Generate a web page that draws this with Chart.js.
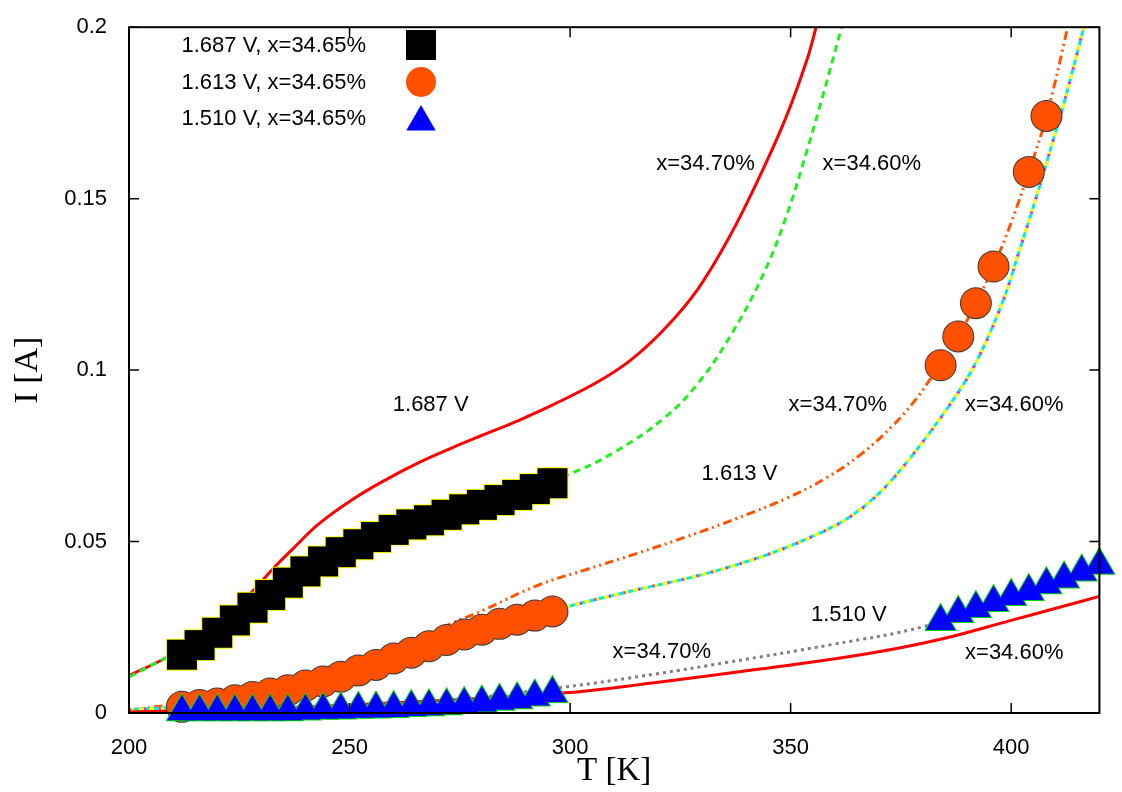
<!DOCTYPE html>
<html>
<head>
<meta charset="utf-8">
<script src="https://cdn.jsdelivr.net/npm/chart.js@4.4.1/dist/chart.umd.min.js"></script>
<style>
  html, body { margin: 0; padding: 0; background: #fff; }
  canvas { display: block; }
</style>
</head>
<body>
<canvas id="chart" width="1122" height="792"></canvas>
<script>
// measured points (T in K, I in A)
const markerT = [212, 216, 220, 224, 228, 232, 236, 240, 244, 248, 252, 256, 260, 264, 268, 272, 276, 280, 284, 288, 292, 296];
const sq1687 = [0.0170, 0.0198, 0.0234, 0.0270, 0.0307, 0.0344, 0.0380, 0.0413, 0.0442, 0.0469, 0.0492, 0.0513, 0.0534, 0.0550, 0.0562, 0.0578, 0.0594, 0.0607, 0.0621, 0.0636, 0.0653, 0.0670];
const circ1613 = [0.0018, 0.0023, 0.0028, 0.0037, 0.0047, 0.0057, 0.0066, 0.0080, 0.0092, 0.0106, 0.0124, 0.0140, 0.0159, 0.0176, 0.0195, 0.0213, 0.0229, 0.0243, 0.0260, 0.0272, 0.0284, 0.0296];
const tri1510 = [0.0004, 0.0004, 0.0004, 0.0004, 0.0004, 0.0004, 0.0004, 0.0006, 0.0008, 0.0009, 0.0011, 0.0012, 0.0013, 0.0016, 0.0018, 0.0021, 0.0025, 0.0029, 0.0034, 0.0039, 0.0047, 0.0057];
const hotT1613 = [384, 388, 392, 396, 404, 408];
const hotCirc1613 = [0.1014, 0.1098, 0.1195, 0.1302, 0.1578, 0.1741];
const hotT1510 = [384, 388, 392, 396, 400, 404, 408, 412, 416, 420];
const hotTri1510 = [0.0267, 0.0290, 0.0305, 0.0322, 0.0340, 0.0354, 0.0374, 0.0391, 0.0411, 0.0431];

// model curves
const fitA_T = [200, 208.5, 215, 222, 228.4, 232.6, 237.1, 243.1, 250.6, 258.2, 265.7, 273.2, 280.7, 288.3, 295.8, 306.3, 313.8, 321.4, 328.9, 336.4, 343.9, 349.2, 353.7, 355.8, 357];
const fitA_I = [0.0109, 0.0162, 0.0215, 0.0280, 0.0360, 0.0420, 0.0478, 0.0552, 0.0622, 0.0680, 0.0730, 0.0773, 0.0813, 0.0853, 0.0897, 0.0966, 0.1030, 0.1120, 0.1235, 0.1395, 0.1590, 0.1745, 0.1905, 0.2001, 0.2060];
const fitB_T = [200, 208.5, 212, 220, 230, 240, 250, 260, 270, 280, 290, 299.2, 310.1, 321.4, 328.9, 336.4, 343.9, 349.2, 353.7, 357.5, 361.6, 363];
const fitB_I = [0.0105, 0.0160, 0.0172, 0.0232, 0.0320, 0.0395, 0.0460, 0.0520, 0.0570, 0.0615, 0.0655, 0.0693, 0.0761, 0.0861, 0.0960, 0.1101, 0.1282, 0.1455, 0.1640, 0.1809, 0.2001, 0.2060];
const fitC_T = [200, 212, 230, 250, 265, 272.5, 280.7, 292.8, 304.1, 315.3, 326.6, 337.9, 349.2, 358, 366, 373.3, 378.6, 382, 384, 388, 392, 396, 400, 404, 408, 412.8, 414];
const fitC_I = [0.0008, 0.0030, 0.0080, 0.0150, 0.0215, 0.0258, 0.0302, 0.0373, 0.0420, 0.0466, 0.0515, 0.0568, 0.0627, 0.0685, 0.0755, 0.0840, 0.0918, 0.0980, 0.1014, 0.1098, 0.1195, 0.1302, 0.1430, 0.1578, 0.1741, 0.2001, 0.2090];
const fitD_T = [200, 212, 225, 240, 255, 270, 285, 299.2, 315.3, 330.4, 345.4, 356.7, 363.5, 370, 377, 386.1, 392.1, 398.1, 401.9, 405.6, 409.4, 412, 416.5, 418];
const fitD_I = [0.0010, 0.0018, 0.0040, 0.0080, 0.0136, 0.0204, 0.0263, 0.0310, 0.0360, 0.0405, 0.0465, 0.0525, 0.0572, 0.0640, 0.0742, 0.0899, 0.1024, 0.1200, 0.1350, 0.1500, 0.1665, 0.1780, 0.2001, 0.2080];
const fitE_T = [212, 240, 270, 298.3, 320, 335.3, 359.5, 380.5, 400, 420];
const fitE_I = [0.0005, 0.0015, 0.0035, 0.0075, 0.0115, 0.0147, 0.0200, 0.0253, 0.0335, 0.0431];
const fitF_T = [200, 230, 260, 298.3, 320, 343, 367, 384, 400, 412, 420];
const fitF_I = [0.0003, 0.0012, 0.0030, 0.0058, 0.0090, 0.0128, 0.0172, 0.0215, 0.0270, 0.0312, 0.0340];

const xTicks = [200, 250, 300, 350, 400];
const yTicks = [0, 0.05, 0.1, 0.15, 0.2];

const legendItems = ["1.687 V, x=34.65%", "1.613 V, x=34.65%", "1.510 V, x=34.65%"];
const notes = [
  ["1.687 V", 268.4, 0.0899],
  ["x=34.70%", 330.7, 0.1601],
  ["x=34.60%", 368.4, 0.1601],
  ["x=34.70%", 360.7, 0.0899],
  ["x=34.60%", 400.7, 0.0899],
  ["1.613 V", 338.4, 0.0698],
  ["1.510 V", 363.2, 0.0287],
  ["x=34.70%", 320.8, 0.0178],
  ["x=34.60%", 400.7, 0.0175]
];

const pts = (xs, ys) => xs.map((x, i) => ({x: x, y: ys[i]}));

const FONT = "Liberation Sans, Arial, sans-serif";
const SERIF = "Liberation Serif, Times New Roman, serif";

// marker sets: an outline layer drawn a bit bigger behind the fill layer,
// so only the outer edge of the overlapping symbols shows
function marker(xs, ys, style, r, fill) {
  return {
    data: pts(xs, ys), showLine: false, clip: false,
    pointStyle: style, pointRadius: r, pointHoverRadius: r,
    backgroundColor: fill, borderColor: fill, borderWidth: 0
  };
}
function curve(xs, ys, color, dash, width) {
  return {
    data: pts(xs, ys), showLine: true, pointRadius: 0, pointHoverRadius: 0,
    borderColor: color, borderWidth: width || 3, borderDash: dash || [],
    tension: 0.4, fill: false
  };
}

const frameAndNotes = {
  id: "frameAndNotes",
  afterDatasetsDraw(chart) {
    const ctx = chart.ctx;
    const a = chart.chartArea;
    const xs = chart.scales.x, ys = chart.scales.y;
    ctx.save();
    ctx.strokeStyle = "#000";
    ctx.lineWidth = 2;
    ctx.strokeRect(a.left, a.top, a.right - a.left, a.bottom - a.top);
    ctx.lineWidth = 1.5;
    ctx.beginPath();
    xTicks.forEach(v => {
      const px = xs.getPixelForValue(v);
      ctx.moveTo(px, a.bottom); ctx.lineTo(px, a.bottom - 10);
      ctx.moveTo(px, a.top); ctx.lineTo(px, a.top + 10);
    });
    yTicks.forEach(v => {
      const py = ys.getPixelForValue(v);
      ctx.moveTo(a.left, py); ctx.lineTo(a.left + 10, py);
      ctx.moveTo(a.right, py); ctx.lineTo(a.right - 10, py);
    });
    ctx.stroke();

    ctx.fillStyle = "#000";
    ctx.font = "22px " + FONT;
    ctx.textAlign = "center";
    ctx.textBaseline = "middle";
    notes.forEach(n => {
      ctx.fillText(n[0], xs.getPixelForValue(n[1]), ys.getPixelForValue(n[2]));
    });

    // key, top left
    const styles = [
      {pointStyle: "rect", radius: 21.2, fill: "#000000"},
      {pointStyle: "circle", radius: 15, fill: "#ff5000"},
      {pointStyle: "triangle", radius: 17, fill: "#0000ff"}
    ];
    const rowY = [46, 83, 119];
    ctx.textAlign = "right";
    legendItems.forEach((t, i) => {
      ctx.fillStyle = "#000";
      ctx.fillText(t, 366, rowY[i]);
      ctx.fillStyle = styles[i].fill;
      const yy = styles[i].pointStyle === "triangle" ? rowY[i] + 3 : rowY[i] - 1;
      Chart.helpers.drawPoint(ctx, {pointStyle: styles[i].pointStyle, radius: styles[i].radius, borderWidth: 0, rotation: 0}, 421, yy);
    });
    ctx.restore();
  }
};

new Chart(document.getElementById("chart"), {
  type: "scatter",
  data: {
    datasets: [
      marker(markerT, tri1510, "triangle", 17, "#0000ff"),
      marker(hotT1510, hotTri1510, "triangle", 17, "#0000ff"),
      marker(markerT, tri1510, "triangle", 19, "#00dd00"),
      marker(hotT1510, hotTri1510, "triangle", 19, "#00dd00"),
      marker(markerT, circ1613, "circle", 15, "#ff5000"),
      marker(hotT1613, hotCirc1613, "circle", 15, "#ff5000"),
      marker(markerT, circ1613, "circle", 16, "#3a3a3a"),
      marker(hotT1613, hotCirc1613, "circle", 16, "#3a3a3a"),
      marker(markerT, sq1687, "rect", 21.2, "#000000"),
      marker(markerT, sq1687, "rect", 22.6, "#ffff00"),
      curve(fitE_T, fitE_I, "#808080", [3, 4], 3),
      curve(fitF_T, fitF_I, "#ff0000", [], 3),
      curve(fitD_T, fitD_I, "#dd22dd", [2, 13], 3),
      curve(fitD_T, fitD_I, "#ffff00", [5, 5], 3),
      curve(fitD_T, fitD_I, "#00e8e8", [], 3),
      curve(fitC_T, fitC_I, "#ff5500", [9, 4, 2, 4, 2, 4], 3),
      curve(fitB_T, fitB_I, "#22ee22", [7, 5], 3),
      curve(fitA_T, fitA_I, "#ff0000", [], 3)
    ]
  },
  options: {
    responsive: false,
    animation: false,
    devicePixelRatio: 1,
    layout: { padding: { top: 17, right: 19, left: 0, bottom: 0 } },
    plugins: { legend: { display: false }, tooltip: { enabled: false } },
    scales: {
      x: {
        type: "linear", min: 200, max: 420,
        afterBuildTicks: s => { s.ticks = xTicks.map(v => ({value: v})); },
        afterFit: s => { s.height = 79; },
        grid: { display: false }, border: { display: false },
        ticks: { color: "#000", font: { family: FONT, size: 22 }, padding: 14, maxRotation: 0 },
        title: { display: true, text: "T [K]", color: "#000", font: { family: SERIF, size: 33 }, padding: { top: 0, bottom: 1 } }
      },
      y: {
        type: "linear", min: 0, max: 0.2,
        afterBuildTicks: s => { s.ticks = yTicks.map(v => ({value: v})); },
        afterFit: s => { s.width = 129; },
        grid: { display: false }, border: { display: false },
        ticks: { color: "#000", font: { family: FONT, size: 22 }, padding: 14, callback: v => String(v) },
        title: { display: true, text: "I [A]", color: "#000", font: { family: SERIF, size: 34 }, padding: { top: 8, bottom: 0 } }
      }
    }
  },
  plugins: [frameAndNotes]
});
</script>
</body>
</html>
